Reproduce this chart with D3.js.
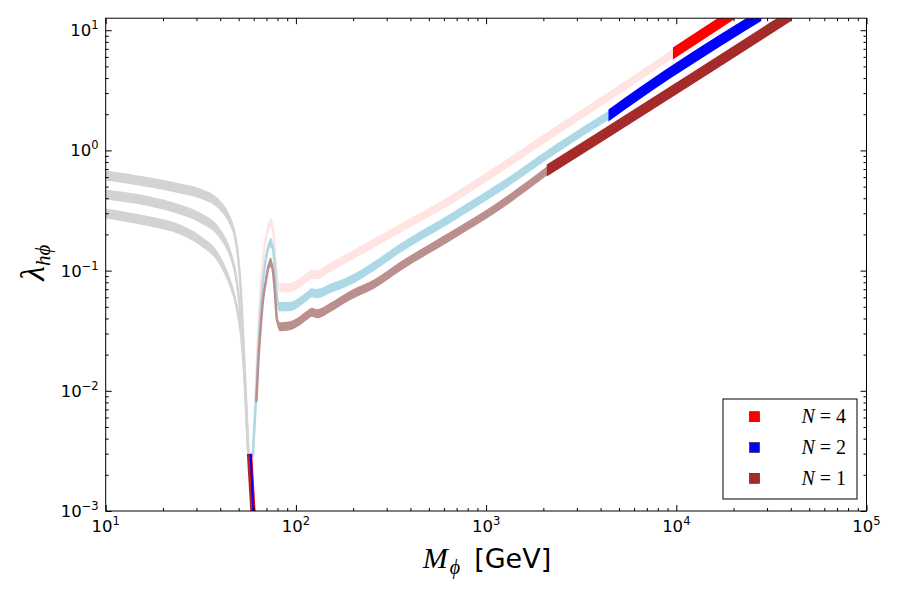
<!DOCTYPE html>
<html>
<head>
<meta charset="utf-8">
<script src="https://cdn.jsdelivr.net/npm/d3@7"></script>
<style>
  body { margin: 0; background: #fff; }
  svg { display: block; }
  text { white-space: pre; }
</style>
</head>
<body>
<div id="chart"></div>
<script>
// ── Data (M_phi in GeV, lambda_h_phi) ─────────────────────────────────────────
// low-mass part, drawn grey (same M grid for the three N)
const greyM   = [10, 17.1, 24.6, 31.3, 39.9, 45.0, 47.8, 49.6, 51.4, 52.7, 54.0, 55.3, 56.3];
const greyN4L = [0.619, 0.541, 0.482, 0.438, 0.348, 0.261, 0.196, 0.133, 0.0681, 0.0316, 0.0133, 0.00562, 0.00287];
const greyN2L = [0.430, 0.376, 0.322, 0.276, 0.203, 0.141, 0.100, 0.0681, 0.0383, 0.0215, 0.0110, 0.00511, 0.00287];
const greyN1L = [0.299, 0.256, 0.220, 0.178, 0.121, 0.0794, 0.0584, 0.0438, 0.0299, 0.0196, 0.0110, 0.00483, 0.00287];

// excluded (pale) part above the resonance
const paleN4M = [59.4, 61.2, 63.1, 65.1, 67.5, 70.0, 72.1, 73.9, 75.7, 77.6, 79.4, 81.4, 93.0, 105, 115.6, 121.4, 128.9, 151, 192, 260, 352, 645, 1180, 2352, 5042, 9700];
const paleN4L = [0.00287, 0.00825, 0.0261, 0.0681, 0.133, 0.196, 0.237, 0.251, 0.224, 0.153, 0.0909, 0.0722, 0.0722, 0.0794, 0.0891, 0.0935, 0.0926, 0.106, 0.131, 0.171, 0.224, 0.383, 0.708, 1.468, 3.22, 6.45];
const paleN2M = [59.4, 61.6, 63.5, 65.5, 67.9, 70.4, 72.1, 73.9, 75.7, 77.6, 79.4, 81.4, 93.0, 105, 115.6, 121.4, 128.9, 151, 192, 260, 352, 645, 1180, 2352, 4500];
const paleN2L = [0.00287, 0.00825, 0.0237, 0.0511, 0.0962, 0.139, 0.162, 0.171, 0.153, 0.104, 0.0619, 0.0501, 0.0501, 0.0552, 0.0619, 0.0655, 0.0643, 0.0708, 0.0825, 0.110, 0.153, 0.271, 0.492, 1.039, 2.0];
const paleN1M = [62.0, 63.5, 65.1, 67.1, 69.6, 71.7, 73.9, 75.7, 77.6, 79.4, 82.4, 93.0, 105, 115.6, 121.4, 128.9, 151, 192, 260, 352, 645, 1180, 2150];
const paleN1L = [0.00825, 0.0178, 0.0316, 0.0562, 0.0825, 0.108, 0.117, 0.100, 0.0656, 0.0398, 0.0341, 0.0348, 0.0383, 0.0430, 0.0450, 0.0438, 0.0492, 0.0619, 0.0779, 0.108, 0.192, 0.348, 0.70];

// allowed part at high mass
const fullN4M = [9600, 20000];
const fullN4L = [6.4, 13.7];
const fullN2M = [4400, 6425, 28000];
const fullN2L = [1.95, 2.99, 13.4];
const fullN1M = [2085, 6425, 40000];
const fullN1L = [0.681, 2.1, 13.3];

// allowed strip at the Higgs-resonance dip
const dipN1M = [56.6, 59.1];
const dipN4M = [57.7, 60.2];
const dipN2M = [57.8, 59.8];
const dipN1L = [0.00299, 0.00094];
const dipN4L = [0.00299, 0.00094];
const dipN2L = [0.00299, 0.00100];

// legend + ticks
const legendN      = ['4', '2', '1'];
const legendColors = ['#ff0000', '#0000ff', '#a52a2a'];
const xTickExp = [1, 2, 3, 4, 5];
const yTickExp = [-3, -2, -1, 0, 1];

// ── Setup ─────────────────────────────────────────────────────────────────────
const W = 900, H = 600;
const box = { left: 105.7, right: 866.5, top: 18.2, bottom: 511 };

const svg = d3.select('#chart').append('svg')
  .attr('width', W)
  .attr('height', H);

const x = d3.scaleLog().domain([10, 1e5]).range([box.left, box.right]);
const y = d3.scaleLog().domain([1e-3, Math.pow(10, 1.1)]).range([box.bottom, box.top]);

svg.append('defs').append('clipPath').attr('id', 'clip')
  .append('rect')
  .attr('x', box.left).attr('y', box.top)
  .attr('width', box.right - box.left).attr('height', box.bottom - box.top);

const plot = svg.append('g').attr('clip-path', 'url(#clip)');

// ── Bands: scatter bands have a constant thickness in log(lambda) ─────────────
function band(Ms, Ls, color, half, sw) {
  const pts = Ms.map((m, i) => [m, Ls[i]]);
  const k = Math.pow(10, half);
  plot.append('path').datum(pts)
    .attr('d', d3.area().curve(d3.curveMonotoneX)
      .x(d => x(d[0])).y0(d => y(d[1] / k)).y1(d => y(d[1] * k)))
    .attr('fill', color);
  if (sw > 0) {
    plot.append('path').datum(pts)
      .attr('d', d3.line().curve(d3.curveMonotoneX)
        .x(d => x(d[0])).y(d => y(d[1])))
      .attr('fill', 'none')
      .attr('stroke', color)
      .attr('stroke-width', sw)
      .attr('stroke-linecap', 'round');
  }
}

function strip(Ms, Ls, color, sw) {
  plot.append('path').datum(Ms.map((m, i) => [m, Ls[i]]))
    .attr('d', d3.line().x(d => x(d[0])).y(d => y(d[1])))
    .attr('fill', 'none')
    .attr('stroke', color)
    .attr('stroke-width', sw);
}

band(greyM, greyN4L, '#d3d3d3', 0.042, 2.5);
band(greyM, greyN2L, '#d3d3d3', 0.042, 2.5);
band(greyM, greyN1L, '#d3d3d3', 0.042, 2.5);

band(paleN4M, paleN4L, '#ffe4e1', 0.038, 2.5);
band(paleN2M, paleN2L, '#add8e6', 0.038, 2.5);
band(paleN1M, paleN1L, '#bc8f8f', 0.038, 2.5);

band(fullN4M, fullN4L, '#ff0000', 0.05, 0);
band(fullN2M, fullN2L, '#0000ff', 0.05, 0);
band(fullN1M, fullN1L, '#a52a2a', 0.05, 0);

strip(dipN1M, dipN1L, '#a52a2a', 4);
strip(dipN4M, dipN4L, '#ff0000', 3.5);
strip(dipN2M, dipN2L, '#0000ff', 2);

// ── Axes (ticks inside, on all four sides) ────────────────────────────────────
const xMajor = xTickExp.map(e => Math.pow(10, e));
const yMajor = yTickExp.map(e => Math.pow(10, e));
const xMinor = [], yMinor = [];
for (let e = 1; e < 5; e++) for (let k = 2; k <= 9; k++) xMinor.push(k * Math.pow(10, e));
for (let e = -3; e < 1; e++) for (let k = 2; k <= 9; k++) yMinor.push(k * Math.pow(10, e));

function addAxis(axis, tx, ty) {
  svg.append('g')
    .attr('transform', `translate(${tx},${ty})`)
    .call(axis)
    .call(g => g.select('.domain').remove())
    .call(g => g.selectAll('line').attr('stroke', '#000').attr('stroke-width', 1));
}

[[xMajor, 6], [xMinor, 3]].forEach(([vals, len]) => {
  addAxis(d3.axisBottom(x).tickValues(vals).tickSize(-len).tickFormat(''), 0, box.bottom);
  addAxis(d3.axisTop(x).tickValues(vals).tickSize(-len).tickFormat(''), 0, box.top);
});
[[yMajor, 6], [yMinor, 3]].forEach(([vals, len]) => {
  addAxis(d3.axisLeft(y).tickValues(vals).tickSize(-len).tickFormat(''), box.left, 0);
  addAxis(d3.axisRight(y).tickValues(vals).tickSize(-len).tickFormat(''), box.right, 0);
});

svg.append('rect')
  .attr('x', box.left).attr('y', box.top)
  .attr('width', box.right - box.left).attr('height', box.bottom - box.top)
  .attr('fill', 'none').attr('stroke', '#000').attr('stroke-width', 1);

// tick labels 10^n
const fmtExp = e => (e < 0 ? '\u2212' + (-e) : String(e));

xTickExp.forEach(e => {
  const t = svg.append('text')
    .attr('x', x(Math.pow(10, e)))
    .attr('y', box.bottom + 21)
    .attr('text-anchor', 'middle')
    .attr('font-family', 'DejaVu Sans')
    .attr('font-size', 16.5);
  t.append('tspan').text('10');
  t.append('tspan').attr('dy', -7).attr('font-size', 11.5).text(fmtExp(e));
});

yTickExp.forEach(e => {
  const t = svg.append('text')
    .attr('x', box.left - 7)
    .attr('y', y(Math.pow(10, e)) + 6)
    .attr('text-anchor', 'end')
    .attr('font-family', 'DejaVu Sans')
    .attr('font-size', 16.5);
  t.append('tspan').text('10');
  t.append('tspan').attr('dy', -7).attr('font-size', 11.5).text(fmtExp(e));
});

// axis titles
const xl = svg.append('text')
  .attr('x', 487).attr('y', 568)
  .attr('text-anchor', 'middle');
xl.append('tspan').attr('font-family', 'Liberation Serif').attr('font-style', 'italic')
  .attr('font-size', 30).text('M');
xl.append('tspan').attr('font-family', 'Liberation Serif').attr('font-style', 'italic')
  .attr('font-size', 20).attr('dy', 6).attr('dx', 2).text('\u03d5');
xl.append('tspan').attr('font-family', 'DejaVu Sans')
  .attr('font-size', 27).attr('dy', -6).attr('dx', 14).text('[GeV]');

const yl = svg.append('text')
  .attr('transform', `translate(44,${(box.top + box.bottom) / 2 - 2}) rotate(-90)`)
  .attr('text-anchor', 'middle');
yl.append('tspan').attr('font-family', 'Liberation Serif').attr('font-style', 'italic')
  .attr('font-size', 34).text('\u03bb');
yl.append('tspan').attr('font-family', 'Liberation Serif').attr('font-style', 'italic')
  .attr('font-size', 21).attr('dy', 6).text('h\u03d5');

// ── Legend ────────────────────────────────────────────────────────────────────
const leg = svg.append('g');
leg.append('rect')
  .attr('x', 723).attr('y', 399).attr('width', 134).attr('height', 100)
  .attr('fill', '#fff').attr('stroke', '#000').attr('stroke-width', 1);

legendN.forEach((n, i) => {
  const cy = 416.7 + i * 30.8;
  leg.append('rect')
    .attr('x', 749.5).attr('y', cy - 5).attr('width', 10).attr('height', 10)
    .attr('fill', legendColors[i]).attr('stroke', '#222').attr('stroke-width', 0.6);
  const t = leg.append('text')
    .attr('x', 846).attr('y', cy + 6.5)
    .attr('text-anchor', 'end')
    .attr('font-family', 'Liberation Serif')
    .attr('font-size', 20);
  t.append('tspan').attr('font-style', 'italic').text('N');
  t.append('tspan').attr('dx', 5).text('=');
  t.append('tspan').attr('dx', 5).text(n);
});
</script>
</body>
</html>
